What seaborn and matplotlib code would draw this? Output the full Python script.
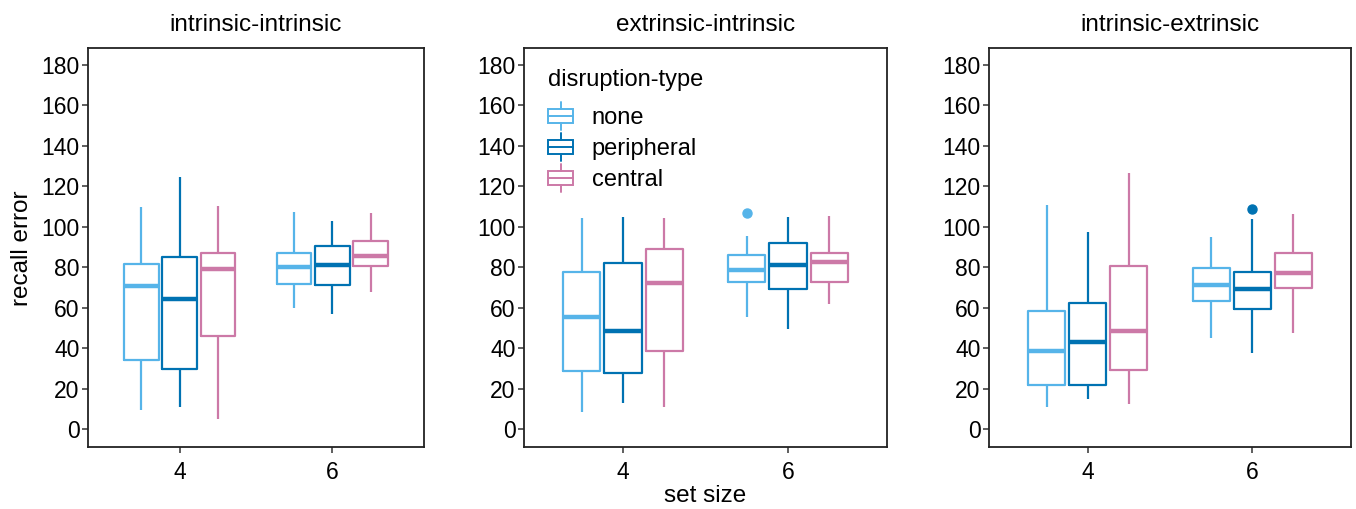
import numpy as np
import pandas as pd
import matplotlib
matplotlib.use("Agg")
import matplotlib.pyplot as plt
import seaborn as sns
from matplotlib.legend_handler import HandlerBase
from matplotlib.patches import Rectangle, Patch
from matplotlib.lines import Line2D

# ---------------- data ----------------
panels = ["intrinsic-intrinsic", "extrinsic-intrinsic", "intrinsic-extrinsic"]
set_sizes = ["4", "6"]
disruption_types = ["none", "peripheral", "central"]
colors = ["#56B4E9", "#0072B2", "#CC79A7"]
y_ticks = [0, 20, 40, 60, 80, 100, 120, 140, 160, 180]

# order of boxes: (4,none) (4,peripheral) (4,central) (6,none) (6,peripheral) (6,central)
ii_low = [9.4, 11.0, 4.8, 59.7, 56.9, 67.6]
ii_q1 = [34.1, 29.5, 46.1, 71.7, 71.2, 80.6]
ii_med = [70.9, 64.3, 79.1, 80.3, 81.3, 85.7]
ii_q3 = [81.4, 84.9, 87.2, 87.2, 90.5, 93.1]
ii_high = [109.6, 124.8, 110.4, 107.5, 103.0, 106.7]
ii_out = [[], [], [], [], [], []]

ei_low = [8.6, 13.0, 10.9, 55.2, 49.5, 61.7]
ei_q1 = [28.7, 27.5, 38.6, 72.7, 69.1, 72.7]
ei_med = [55.5, 48.5, 72.4, 78.6, 81.3, 82.7]
ei_q3 = [77.5, 82.1, 89.2, 86.1, 91.8, 87.2]
ei_high = [104.2, 104.7, 104.2, 95.6, 105.0, 105.5]
ei_out = [[], [], [], [107.0], [], []]

ie_low = [11.0, 15.0, 12.4, 44.9, 37.4, 47.3]
ie_q1 = [21.6, 21.6, 29.2, 63.3, 59.5, 69.6]
ie_med = [38.6, 42.9, 48.5, 71.2, 69.2, 77.3]
ie_q3 = [58.4, 62.2, 80.6, 79.8, 77.8, 86.9]
ie_high = [110.8, 97.3, 126.5, 95.1, 103.7, 106.3]
ie_out = [[], [], [], [], [108.8], []]

panel_stats = [
    (ii_low, ii_q1, ii_med, ii_q3, ii_high, ii_out),
    (ei_low, ei_q1, ei_med, ei_q3, ei_high, ei_out),
    (ie_low, ie_q1, ie_med, ie_q3, ie_high, ie_out),
]


def box_values(lo, q1, med, q3, hi, outs):
    # sample whose linear-interpolated quartiles equal q1/med/q3
    if outs:
        return [lo, q1, q1, med, med, q3, q3, hi] + list(outs)
    return [lo, q1, q1, med, q3, q3, hi]


rows = []
for p, (lo, q1, md, q3, hi, out) in zip(panels, panel_stats):
    k = 0
    for s in set_sizes:
        for t in disruption_types:
            for v in box_values(lo[k], q1[k], md[k], q3[k], hi[k], out[k]):
                rows.append({"panel": p, "set size": s, "disruption-type": t, "recall error": v})
            k += 1
df = pd.DataFrame(rows)

# ---------------- figure ----------------
sns.set_theme(style="white")
plt.rcParams["font.family"] = ["Liberation Sans", "DejaVu Sans"]
plt.rcParams["text.color"] = "black"

W, H = 1356, 509
fig = plt.figure(figsize=(W / 100, H / 100), dpi=100)

ax_px = [(88, 424), (524, 887), (989, 1351)]
top_px, bot_px = 48, 447

axes = []
for (l, r) in ax_px:
    ax = fig.add_axes([l / W, (H - bot_px) / H, (r - l) / W, (bot_px - top_px) / H])
    axes.append(ax)

for ax, p in zip(axes, panels):
    sub = df[df["panel"] == p]
    sns.boxplot(
        data=sub, x="set size", y="recall error", hue="disruption-type",
        order=set_sizes, hue_order=disruption_types, palette=colors,
        fill=False, width=0.75, gap=0.1, whis=1.5, showcaps=False,
        linewidth=1.6, medianprops={"linewidth": 3.2},
        flierprops={"marker": "o", "markersize": 6.5},
        legend=False, ax=ax,
    )
    for ln in ax.lines:
        if ln.get_marker() == "o":
            ln.set_markerfacecolor(ln.get_markeredgecolor())
    ax.set_xlim(-0.6, 1.6)
    ax.set_ylim(-8.9, 188.4)
    ax.set_yticks(y_ticks)
    ax.set_yticklabels([str(v) for v in y_ticks])
    ax.set_xlabel("")
    ax.set_ylabel("")
    ax.set_title(p, fontsize=17.5, pad=12, color="black")
    for sp in ax.spines.values():
        sp.set_color("#222222")
        sp.set_linewidth(1.3)
    ax.tick_params(axis="both", which="both", direction="out", length=4, width=1.1,
                   color="#333333", labelsize=16.5, labelcolor="black", pad=2,
                   left=True, bottom=True)
    ax.tick_params(axis="x", pad=6)

fig.text(22 / W, 1 - 248 / H, "recall error", rotation=90, fontsize=17.5,
         ha="center", va="center", color="black")
fig.text(705 / W, 1 - 496 / H, "set size", fontsize=17.5, ha="center", va="center",
         color="black")


class BoxHandler(HandlerBase):
    def create_artists(self, legend, orig_handle, xdescent, ydescent, width, height,
                       fontsize, trans):
        c = orig_handle.get_edgecolor()
        x0, y0 = -xdescent, -ydescent
        cx = x0 + width / 2
        bh = height * 0.8
        by = y0 + (height - bh) / 2
        rect = Rectangle((x0, by), width, bh, fill=False, edgecolor=c, lw=1.4, transform=trans)
        med = Line2D([x0, x0 + width], [by + bh / 2] * 2, color=c, lw=1.4, transform=trans)
        w1 = Line2D([cx, cx], [by - height * 0.4, by], color=c, lw=1.4, transform=trans)
        w2 = Line2D([cx, cx], [by + bh, by + bh + height * 0.4], color=c, lw=1.4, transform=trans)
        return [rect, med, w1, w2]


handles = [Patch(facecolor="none", edgecolor=c) for c in colors]
leg = axes[1].legend(handles, disruption_types, title="disruption-type",
                     loc="upper left", bbox_to_anchor=(0.008, 1.0), frameon=False,
                     fontsize=17, title_fontsize=17, handlelength=1.05, handleheight=0.75,
                     labelspacing=0.38, handletextpad=0.8, alignment="left",
                     handler_map={Patch: BoxHandler()})
leg._legend_box.sep = 11.5
for t in leg.get_texts():
    t.set_color("black")
leg.get_title().set_color("black")

fig.savefig("out.png", dpi=100)
